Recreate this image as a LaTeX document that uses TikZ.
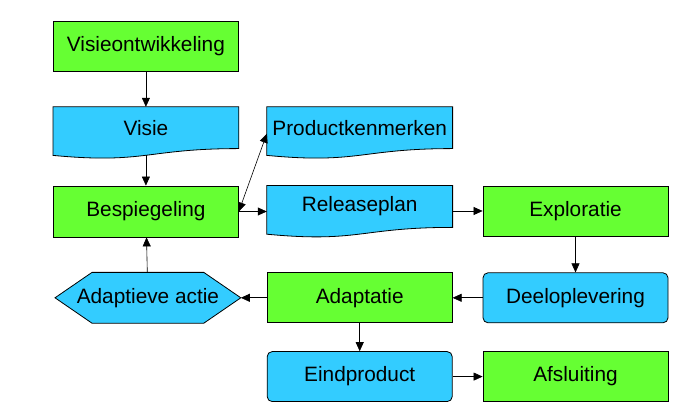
\documentclass[tikz,border=0pt]{standalone}
\usepackage{fontspec}
\setmainfont{Liberation Sans}
\usetikzlibrary{positioning,arrows.meta,calc,backgrounds}
\definecolor{FlowGreen}{RGB}{102,255,51}
\definecolor{FlowBlue}{RGB}{51,204,255}
\tikzset{
  flow box/.style={
    draw=black,
    line width=0.8pt,
    align=center,
    font=\fontsize{20.8}{25}\selectfont,
    inner sep=2pt,
    minimum width=185pt,
    minimum height=50pt
  },
  flow phase/.style={flow box, fill=FlowGreen},
  flow result/.style={flow box, fill=FlowBlue, rounded corners=5pt},
  flow doc/.style={flow box, draw=none, minimum height=41pt},
  flow action/.style={flow box, draw=none},
  flow line/.style={draw=black, line width=0.6pt},
  flow arrow/.style={flow line, -{Triangle[length=9pt,width=8pt]}},
  flow both/.style={flow line, {Triangle[length=9pt,width=8pt]}-{Triangle[length=9pt,width=8pt]}}
}
% document outline with a wavy bottom, drawn behind a flow doc node
\newcommand{\docshape}[1]{%
  \draw[line width=0.8pt, fill=FlowBlue] (#1.north west) -- (#1.north east) -- (#1.south east)
    .. controls +(-92.5,0) and +(92.5,-8.8) .. ([yshift=-6.8pt]#1.south west) -- cycle;}
% hexagon outline, drawn behind a flow action node
\newcommand{\hexshape}[1]{%
  \draw[line width=0.8pt, fill=FlowBlue] (#1.west) -- ([xshift=37pt]#1.north west)
    -- ([xshift=-37pt]#1.north east) -- (#1.east) -- ([xshift=-37pt]#1.south east)
    -- ([xshift=37pt]#1.south west) -- cycle;}

\begin{document}
\begin{tikzpicture}[x=1pt,y=1pt]
\useasboundingbox (0,0) rectangle (692,411);
\node[flow phase, anchor=north west] (ontw) at (53,390) {Visieontwikkeling};
\node[flow doc, below=35pt of ontw] (visie) {Visie};
\node[flow phase, below=37pt of visie, minimum height=51pt] (besp) {Bespiegeling};
\node[flow doc, right=28pt of visie.north east, anchor=north west] (prod) {Productkenmerken};
\node[flow doc, right=28pt of besp.north east, anchor=north west] (rel) {Releaseplan};
\node[flow phase, right=30pt of rel.north east, anchor=north west] (expl) {Exploratie};
\node[flow result, below=36pt of expl] (deel) {Deeloplevering};
\node[flow phase, left=30pt of deel] (adapt) {Adaptatie};
\node[flow action, left=26pt of adapt] (actie) {Adaptieve actie};
\node[flow result, below=28pt of adapt] (eind) {Eindproduct};
\node[flow phase, right=30pt of eind] (afsl) {Afsluiting};
\begin{scope}[on background layer]
\docshape{visie}
\docshape{prod}
\docshape{rel}
\hexshape{actie}
\end{scope}
\draw[flow arrow] (ontw)--(visie);
\draw[flow arrow] ([yshift=-6.8pt]visie.south)--(besp);
\draw[flow both] (besp.east)--([yshift=-6pt]prod.west);
\draw[flow arrow] (besp.east)--(besp.east -| rel.west);
\draw[flow arrow] (expl.west -| rel.east)--(expl.west);
\draw[flow arrow] (expl)--(deel);
\draw[flow arrow] (deel)--(adapt);
\draw[flow arrow] (adapt)--(actie);
\draw[flow arrow] (actie)--(besp);
\draw[flow arrow] (adapt)--(eind);
\draw[flow arrow] (eind)--(afsl);
\end{tikzpicture}
\end{document}
